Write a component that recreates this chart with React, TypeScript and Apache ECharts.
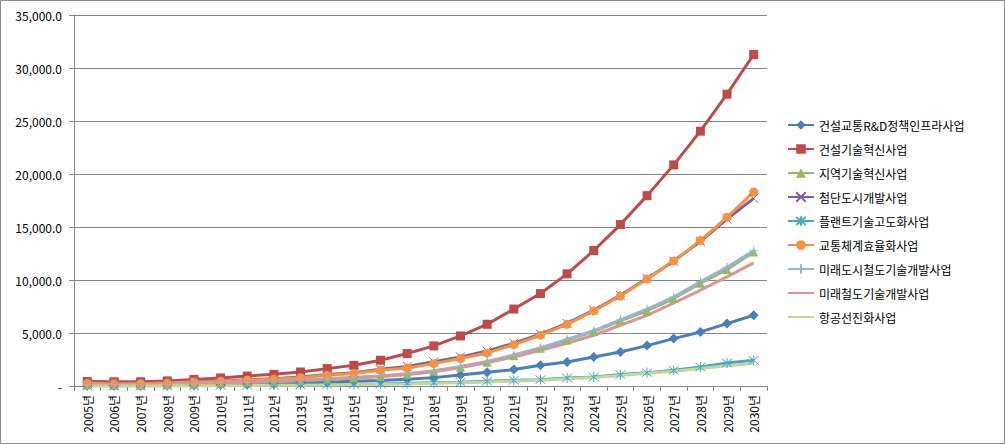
import React, { useEffect, useRef } from "react";
import * as echarts from "echarts";

const years = [
  "2005년", "2006년", "2007년", "2008년", "2009년", "2010년", "2011년", "2012년", "2013년",
  "2014년", "2015년", "2016년", "2017년", "2018년", "2019년", "2020년", "2021년", "2022년",
  "2023년", "2024년", "2025년", "2026년", "2027년", "2028년", "2029년", "2030년",
];

const rndInfra = [50, 40, 40, 60, 90, 120, 150, 200, 280, 360, 440, 520, 640, 790, 1040, 1290, 1550, 1950, 2270, 2740, 3210, 3810, 4470, 5100, 5890, 6670];
const constTech = [420, 400, 400, 480, 620, 760, 940, 1100, 1320, 1640, 1950, 2430, 3060, 3780, 4720, 5820, 7260, 8720, 10580, 12780, 15230, 17960, 20860, 24040, 27530, 31270];
const regionTech = [100, 80, 80, 120, 200, 270, 340, 420, 500, 620, 750, 900, 1100, 1380, 1780, 2250, 2850, 3550, 4330, 5150, 6150, 7100, 8250, 9700, 11000, 12650];
const urbanDev = [250, 220, 220, 280, 390, 470, 580, 690, 850, 1080, 1260, 1580, 1850, 2280, 2750, 3300, 4050, 4900, 5900, 7150, 8550, 10150, 11780, 13650, 15750, 17700];
const plantTech = [10, 10, 10, 20, 30, 40, 60, 80, 100, 130, 160, 200, 250, 300, 350, 445, 540, 600, 755, 850, 1075, 1260, 1480, 1790, 2170, 2425];
const transportEff = [250, 220, 220, 280, 380, 450, 550, 650, 790, 1010, 1170, 1480, 1700, 2110, 2590, 3120, 3900, 4790, 5820, 7080, 8490, 10100, 11800, 13720, 15920, 18310];
const urbanRail = [150, 130, 130, 170, 250, 320, 390, 470, 560, 680, 820, 950, 1150, 1450, 1850, 2320, 2920, 3600, 4400, 5220, 6230, 7250, 8380, 9830, 11200, 12750];
const futureRail = [130, 110, 110, 150, 220, 290, 360, 430, 520, 630, 760, 890, 1080, 1350, 1750, 2200, 2740, 3370, 4030, 4790, 5730, 6670, 7830, 9030, 10290, 11610];
const aviation = [0, 0, 0, 10, 20, 30, 40, 60, 80, 100, 130, 160, 200, 250, 300, 380, 470, 540, 680, 800, 1000, 1200, 1400, 1650, 1900, 2120];

const seriesDefs = [
  { name: "건설교통R&D정책인프라사업", data: rndInfra, color: "#4A7EBB", symbol: "diamond", size: 10 },
  { name: "건설기술혁신사업", data: constTech, color: "#BE4B48", symbol: "rect", size: 9 },
  { name: "지역기술혁신사업", data: regionTech, color: "#98B954", symbol: "triangle", size: 9 },
  { name: "첨단도시개발사업", data: urbanDev, color: "#7D60A0", symbol: "path://M0,0L10,10M10,0L0,10", size: 9 },
  { name: "플랜트기술고도화사업", data: plantTech, color: "#46AAC5", symbol: "path://M0,0L10,10M10,0L0,10M5,-1L5,11", size: 10 },
  { name: "교통체계효율화사업", data: transportEff, color: "#F69240", symbol: "circle", size: 9 },
  { name: "미래도시철도기술개발사업", data: urbanRail, color: "#97B3D7", symbol: "path://M5,0L5,10M0,5L10,5", size: 9 },
  { name: "미래철도기술개발사업", data: futureRail, color: "#DA9694", symbol: "none", size: 0 },
  { name: "항공선진화사업", data: aviation, color: "#C3D69B", symbol: "none", size: 0 },
];

const FONT = "'Noto Sans CJK KR', 'Noto Sans', sans-serif";

export default function App() {
  const ref = useRef<HTMLDivElement>(null);
  useEffect(() => {
    if (!ref.current) return;
    const chart = echarts.init(ref.current, undefined, { renderer: "svg" });
    chart.setOption({
      animation: false,
      backgroundColor: "#ffffff",
      textStyle: { fontFamily: FONT },
      graphic: [
        {
          type: "rect",
          silent: true,
          shape: { x: 0.5, y: 0.5, width: 1004, height: 443 },
          style: { fill: "none", stroke: "#8c8c8c", lineWidth: 1 },
        },
      ],
      grid: { left: 74, right: 238, top: 15, bottom: 58, containLabel: false },
      legend: {
        orient: "vertical",
        left: 782,
        top: 114,
        itemWidth: 26,
        itemHeight: 12,
        itemGap: 12,
        textStyle: { fontSize: 12, color: "#000", fontFamily: FONT },
        data: seriesDefs.map((s) =>
          s.symbol === "none" ? { name: s.name, itemStyle: { opacity: 0 } } : { name: s.name }
        ),
      },
      xAxis: {
        type: "category",
        data: years,
        boundaryGap: true,
        axisLine: { lineStyle: { color: "#868686", width: 1 } },
        axisTick: { show: true, length: 5, lineStyle: { color: "#868686" } },
        axisLabel: {
          rotate: 90,
          interval: 0,
          margin: 9,
          fontSize: 12,
          color: "#000",
          fontFamily: FONT,
        },
        splitLine: { show: false },
      },
      yAxis: {
        type: "value",
        min: 0,
        max: 35000,
        interval: 5000,
        axisLine: { show: true, lineStyle: { color: "#868686", width: 1 } },
        axisTick: { show: true, length: 5, lineStyle: { color: "#868686" } },
        axisLabel: {
          margin: 12,
          fontSize: 12,
          color: "#000",
          fontFamily: FONT,
          formatter: (v: number) =>
            v === 0
              ? "-"
              : v.toLocaleString("en-US", { minimumFractionDigits: 1, maximumFractionDigits: 1 }),
        },
        splitLine: { show: true, lineStyle: { color: "#868686", width: 1 } },
      },
      series: seriesDefs.map((s) => ({
        name: s.name,
        type: "line",
        data: s.data,
        color: s.color,
        symbol: s.symbol,
        symbolSize: s.size,
        showSymbol: s.symbol !== "none",
        lineStyle: { color: s.color, width: 3 },
        itemStyle: {
          color: s.color,
          borderColor: s.color,
          borderWidth: s.symbol.startsWith("path://") ? 1 : 0,
        },
        emphasis: { disabled: true },
      })),
    });
    return () => chart.dispose();
  }, []);
  return (
    <div
      ref={ref}
      style={{ position: "absolute", left: 0, top: 0, width: 1005, height: 444 }}
    />
  );
}
